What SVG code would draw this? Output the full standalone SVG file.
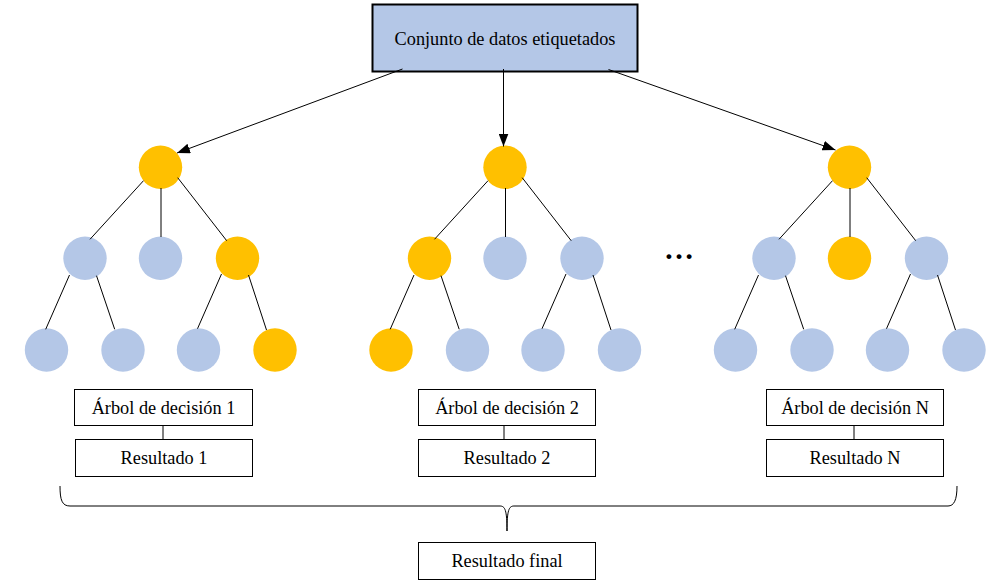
<svg xmlns="http://www.w3.org/2000/svg" width="1006" height="583" viewBox="0 0 1006 583">
<defs>
<marker id="arr" markerUnits="userSpaceOnUse" markerWidth="14" markerHeight="10" refX="13" refY="5" orient="auto">
<path d="M0,0 L13,5 L0,10 Z" fill="#000"/>
</marker>
<style>
.t{font-family:"Liberation Serif","Times New Roman",serif;font-size:18.3px;fill:#000;text-anchor:middle}
.box{fill:#fff;stroke:#000;stroke-width:1}
.o{fill:#FFC000}
.b{fill:#B4C7E7}
.e{stroke:#000;stroke-width:1;fill:none}
.a{stroke:#000;stroke-width:1;fill:none;marker-end:url(#arr)}
</style>
</defs>
<rect width="1006" height="583" fill="#fff"/>
<g id="dataset">
<rect x="372.5" y="4.5" width="265" height="67" fill="#B4C7E7" stroke="#000" stroke-width="2"/>
<text class="t" x="505" y="44.5">Conjunto de datos etiquetados</text>
</g>
<g id="tree1">
<circle class="o" cx="160.5" cy="167.3" r="21.7"/>
<circle class="b" cx="85" cy="258.3" r="21.7"/>
<circle class="b" cx="160.5" cy="258.3" r="21.7"/>
<circle class="o" cx="237.5" cy="258.3" r="21.7"/>
<circle class="b" cx="46.5" cy="350" r="21.7"/>
<circle class="b" cx="123" cy="350" r="21.7"/>
<circle class="b" cx="198.5" cy="350" r="21.7"/>
<circle class="o" cx="275" cy="350" r="21.7"/>
</g>
<g id="tree2">
<circle class="o" cx="505" cy="167.3" r="21.7"/>
<circle class="o" cx="429.5" cy="258.3" r="21.7"/>
<circle class="b" cx="505" cy="258.3" r="21.7"/>
<circle class="b" cx="582" cy="258.3" r="21.7"/>
<circle class="o" cx="391" cy="350" r="21.7"/>
<circle class="b" cx="467.5" cy="350" r="21.7"/>
<circle class="b" cx="543" cy="350" r="21.7"/>
<circle class="b" cx="619.5" cy="350" r="21.7"/>
</g>
<g id="ellipsis">
<text x="679" y="259" font-family="Liberation Serif, serif" font-weight="bold" font-size="30" text-anchor="middle">…</text>
</g>
<g id="tree3">
<circle class="o" cx="849.5" cy="167.3" r="21.7"/>
<circle class="b" cx="774" cy="258.3" r="21.7"/>
<circle class="o" cx="849.5" cy="258.3" r="21.7"/>
<circle class="b" cx="926.5" cy="258.3" r="21.7"/>
<circle class="b" cx="735.5" cy="350" r="21.7"/>
<circle class="b" cx="812" cy="350" r="21.7"/>
<circle class="b" cx="887.5" cy="350" r="21.7"/>
<circle class="b" cx="964" cy="350" r="21.7"/>
</g>
<g id="arbol1">
<rect class="box" x="74.5" y="389.5" width="178" height="36"/>
<text class="t" x="163.5" y="413.5">Árbol de decisión 1</text>
</g>
<g id="resultado1">
<rect class="box" x="75.5" y="439.5" width="177" height="37"/>
<text class="t" x="164" y="464">Resultado 1</text>
</g>
<g id="arbol2">
<rect class="box" x="418.5" y="389.5" width="177" height="36"/>
<text class="t" x="507" y="413.5">Árbol de decisión 2</text>
</g>
<g id="resultado2">
<rect class="box" x="418.5" y="439.5" width="177" height="37"/>
<text class="t" x="507" y="464">Resultado 2</text>
</g>
<g id="arbolN">
<rect class="box" x="766.5" y="389.5" width="177" height="36"/>
<text class="t" x="855" y="413.5">Árbol de decisión N</text>
</g>
<g id="resultadoN">
<rect class="box" x="766.5" y="439.5" width="177" height="37"/>
<text class="t" x="855" y="464">Resultado N</text>
</g>
<g id="final">
<rect class="box" x="418.5" y="542.5" width="177" height="37"/>
<text class="t" x="507" y="567">Resultado final</text>
</g>
<g id="connectors">
<line class="a" x1="402.5" y1="69" x2="177" y2="153"/>
<line class="a" x1="503.5" y1="69" x2="503.5" y2="146.5"/>
<line class="a" x1="608.5" y1="69.5" x2="835.5" y2="150"/>
<line class="e" x1="143.5" y1="180.7" x2="90" y2="239.3"/>
<line class="e" x1="161" y1="188" x2="161" y2="237"/>
<line class="e" x1="177.7" y1="177.7" x2="226.7" y2="240.7"/>
<line class="e" x1="69.5" y1="275" x2="45.7" y2="329.3"/>
<line class="e" x1="96.5" y1="275.7" x2="114.7" y2="329.3"/>
<line class="e" x1="221.5" y1="274" x2="197.5" y2="328.7"/>
<line class="e" x1="248.5" y1="275" x2="266.5" y2="330"/>
<line class="e" x1="488" y1="180.7" x2="434.5" y2="239.3"/>
<line class="e" x1="505.5" y1="188" x2="505.5" y2="237"/>
<line class="e" x1="522.2" y1="177.7" x2="571.2" y2="240.7"/>
<line class="e" x1="414" y1="275" x2="390.2" y2="329.3"/>
<line class="e" x1="441" y1="275.7" x2="459.2" y2="329.3"/>
<line class="e" x1="566" y1="274" x2="542" y2="328.7"/>
<line class="e" x1="593" y1="275" x2="611" y2="330"/>
<line class="e" x1="832.5" y1="180.7" x2="779" y2="239.3"/>
<line class="e" x1="850" y1="188" x2="850" y2="237"/>
<line class="e" x1="866.7" y1="177.7" x2="915.7" y2="240.7"/>
<line class="e" x1="758.5" y1="275" x2="734.7" y2="329.3"/>
<line class="e" x1="785.5" y1="275.7" x2="803.7" y2="329.3"/>
<line class="e" x1="910.5" y1="274" x2="886.5" y2="328.7"/>
<line class="e" x1="937.5" y1="275" x2="955.5" y2="330"/>
<line class="e" x1="163" y1="425.5" x2="163" y2="439.5"/>
<line class="e" x1="504" y1="425.5" x2="504" y2="439.5"/>
<line class="e" x1="854" y1="425.5" x2="854" y2="439.5"/>
<path class="e" stroke="#222" d="M60,486 C60,500 62,506 70,506 L500,506 C505,506 507,510 507,531 C507,510 509,506 514,506 L948,506 C954,506 957,500 957,486"/>
</g>
</svg>
